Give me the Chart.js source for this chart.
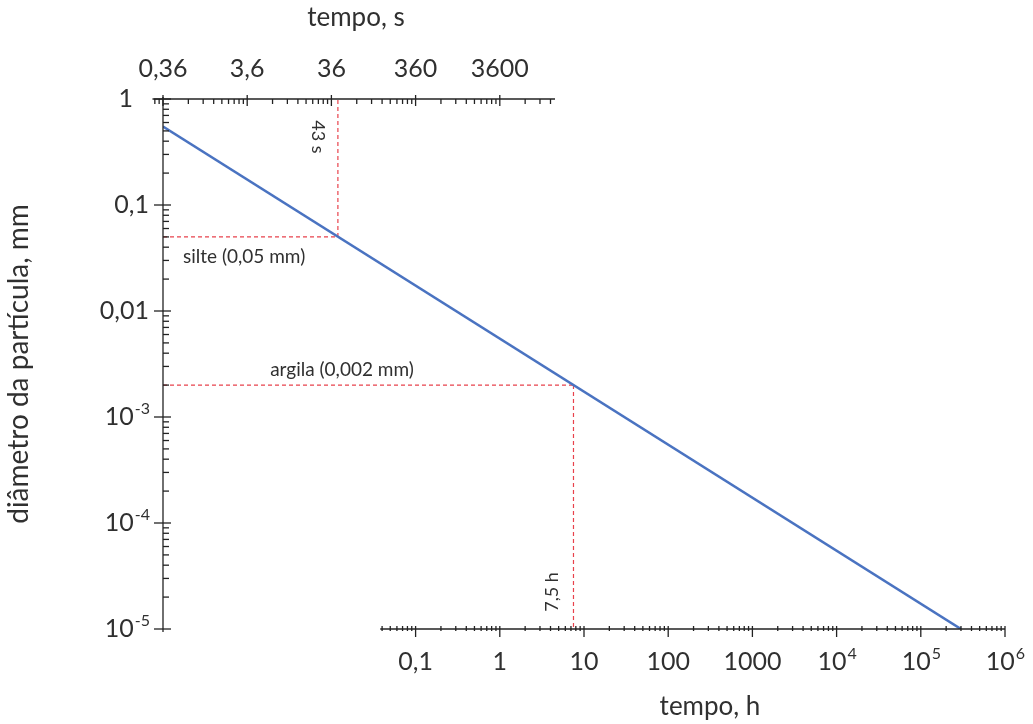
<!DOCTYPE html>
<html><head><meta charset="utf-8">
<script src="https://cdn.jsdelivr.net/npm/chart.js@4.4.1/dist/chart.umd.min.js"></script>
<style>html,body{margin:0;padding:0;background:#fff}#wrap{width:1033px;height:724px;position:relative}</style>
</head><body><div id="wrap"><canvas id="c"></canvas></div>
<script>
// ---- data ----
const lineTimeS = [0.36, 1.08e9];          // tempo, s
const lineDiamMm = [0.55, 1e-5];           // diâmetro, mm
const topTickValuesS = [0.36, 3.6, 36, 360, 3600];
const topTickLabels = ['0,36', '3,6', '36', '360', '3600'];
const bottomTickValuesH = [0.1, 1, 10, 100, 1000, 1e4, 1e5, 1e6];
const bottomTickLabels = [['0,1'], ['1'], ['10'], ['100'], ['1000'], ['10', '4'], ['10', '5'], ['10', '6']];
const yTickValues = [1, 0.1, 0.01, 1e-3, 1e-4, 1e-5];
const yTickLabels = [['1'], ['0,1'], ['0,01'], ['10', '-3'], ['10', '-4'], ['10', '-5']];
const silteDiamMm = 0.05, silteTimeS = 43;
const argilaDiamMm = 0.002, argilaTimeH = 7.5;
const topAxisExtentS = [0.27, 16300];
const bottomAxisExtentH = [0.038, 1e6];

const FONT = 'Lato, "Open Sans", sans-serif';
const TXT = '#303030';
const AX = '#222';

function seg(c, x1, y1, x2, y2) { c.beginPath(); c.moveTo(x1, y1); c.lineTo(x2, y2); c.stroke(); }
function minorValues(lo, hi, base) {
  const out = [];
  for (let e = -8; e <= 12; e++) for (let k = 2; k <= 9; k++) {
    const v = base * k * Math.pow(10, e);
    if (v > lo && v < hi) out.push(v);
  }
  return out;
}
function drawSupLabel(c, parts, x, y, align, size) {
  c.font = size + 'px ' + FONT;
  const w0 = c.measureText(parts[0]).width;
  let w1 = 0;
  if (parts[1]) { c.font = Math.round(size * 0.62) + 'px ' + FONT; w1 = c.measureText(parts[1]).width; }
  const total = w0 + w1;
  let left = align === 'right' ? x - total : x - total / 2;
  c.textAlign = 'left'; c.textBaseline = 'middle';
  c.font = size + 'px ' + FONT;
  c.fillText(parts[0], left, y);
  if (parts[1]) {
    c.font = Math.round(size * 0.62) + 'px ' + FONT;
    c.fillText(parts[1], left + w0 + 1, y - size * 0.32);
  }
}

const axesPlugin = {
  id: 'axesPlugin',
  afterDatasetsDraw(chart) {
    const c = chart.ctx, xs = chart.scales.xs, xh = chart.scales.xh, y = chart.scales.y;
    c.save();
    c.strokeStyle = AX; c.lineWidth = 1.3; c.setLineDash([]);
    const x0 = xs.getPixelForValue(topTickValuesS[0]);
    const yTop = y.getPixelForValue(1), yBot = y.getPixelForValue(1e-5);
    // left axis
    seg(c, x0, yTop - 2, x0, yBot + 3);
    yTickValues.forEach(v => { const p = y.getPixelForValue(v); seg(c, x0 - 9, p, x0 + 8, p); });
    minorValues(1e-5, 1, 1).forEach(v => { const p = y.getPixelForValue(v); seg(c, x0, p, x0 + 6, p); });
    // top axis (seconds)
    const ta = topAxisExtentS.map(v => xs.getPixelForValue(v));
    seg(c, ta[0], yTop, ta[1], yTop);
    topTickValuesS.forEach(v => { const p = xs.getPixelForValue(v); seg(c, p, yTop - 4, p, yTop + 7); });
    minorValues(topAxisExtentS[0], topAxisExtentS[1], 0.36).forEach(v => { const p = xs.getPixelForValue(v); seg(c, p, yTop, p, yTop + 5); });
    // bottom axis (hours)
    const ba = bottomAxisExtentH.map(v => xh.getPixelForValue(v));
    seg(c, ba[0], yBot, ba[1], yBot);
    bottomTickValuesH.forEach(v => { const p = xh.getPixelForValue(v); seg(c, p, yBot - 3, p, yBot + 8); });
    minorValues(bottomAxisExtentH[0], bottomAxisExtentH[1], 1).forEach(v => { const p = xh.getPixelForValue(v); seg(c, p, yBot - 3, p, yBot + 2); });

    // tick labels
    c.fillStyle = TXT;
    yTickValues.forEach((v, i) => drawSupLabel(c, yTickLabels[i], i === 0 ? x0 - 30 : x0 - 14, y.getPixelForValue(v), 'right', 25));
    topTickValuesS.forEach((v, i) => drawSupLabel(c, [topTickLabels[i]], xs.getPixelForValue(v), yTop - 30, 'center', 25));
    bottomTickValuesH.forEach((v, i) => drawSupLabel(c, bottomTickLabels[i], xh.getPixelForValue(v), yBot + 33, 'center', 25));

    // axis titles
    c.textAlign = 'center'; c.textBaseline = 'middle';
    c.font = '26px ' + FONT;
    c.fillText('tempo, s', 356, 18);
    c.fillText('tempo, h', 710, 707);
    c.save(); c.translate(19, 364); c.rotate(-Math.PI / 2); c.font = '28px ' + FONT; c.fillText('diâmetro da partícula, mm', 0, 0); c.restore();

    // annotations
    c.font = '19px ' + FONT;
    const ySilte = y.getPixelForValue(silteDiamMm), xSilte = xs.getPixelForValue(silteTimeS);
    const yArg = y.getPixelForValue(argilaDiamMm), xArg = xh.getPixelForValue(argilaTimeH);
    c.textAlign = 'left';
    c.fillText('silte (0,05 mm)', x0 + 20, ySilte + 20);
    c.textAlign = 'center';
    c.fillText('argila (0,002 mm)', 342, yArg - 15);
    c.font = '18px ' + FONT;
    c.save(); c.translate(xSilte - 20, 137); c.rotate(Math.PI / 2); c.fillText('43 s', 0, 0); c.restore();
    c.save(); c.translate(xArg - 21, 592); c.rotate(-Math.PI / 2); c.fillText('7,5 h', 0, 0); c.restore();
    c.restore();
  }
};

const guide = { borderColor: '#e8424c', borderWidth: 1.2, borderDash: [4, 3], pointRadius: 0, showLine: true, fill: false };
new Chart(document.getElementById('c'), {
  type: 'scatter',
  data: {
    datasets: [
      { label: 'diâmetro', data: lineTimeS.map((t, i) => ({ x: t, y: lineDiamMm[i] })), xAxisID: 'xs', yAxisID: 'y',
        borderColor: '#4a73c1', borderWidth: 2.6, pointRadius: 0, showLine: true },
      Object.assign({ label: 'silte h', data: [{ x: topTickValuesS[0], y: silteDiamMm }, { x: silteTimeS, y: silteDiamMm }], xAxisID: 'xs', yAxisID: 'y' }, guide),
      Object.assign({ label: 'silte v', data: [{ x: silteTimeS, y: silteDiamMm }, { x: silteTimeS, y: 1 }], xAxisID: 'xs', yAxisID: 'y' }, guide),
      Object.assign({ label: 'argila h', data: [{ x: 1e-4, y: argilaDiamMm }, { x: argilaTimeH, y: argilaDiamMm }], xAxisID: 'xh', yAxisID: 'y' }, guide),
      Object.assign({ label: 'argila v', data: [{ x: argilaTimeH, y: argilaDiamMm }, { x: argilaTimeH, y: 1e-5 }], xAxisID: 'xh', yAxisID: 'y' }, guide)
    ]
  },
  options: {
    responsive: true, maintainAspectRatio: false, animation: false,
    layout: { padding: { left: 163, right: 28, top: 99, bottom: 95 } },
    plugins: { legend: { display: false }, tooltip: { enabled: false } },
    scales: {
      xs: { type: 'logarithmic', position: 'top', min: 0.36, max: 3.6e9, display: false },
      xh: { type: 'logarithmic', position: 'bottom', min: 1e-4, max: 1e6, display: false },
      y: { type: 'logarithmic', min: 1e-5, max: 1, display: false }
    }
  },
  plugins: [axesPlugin]
});
</script></body></html>
